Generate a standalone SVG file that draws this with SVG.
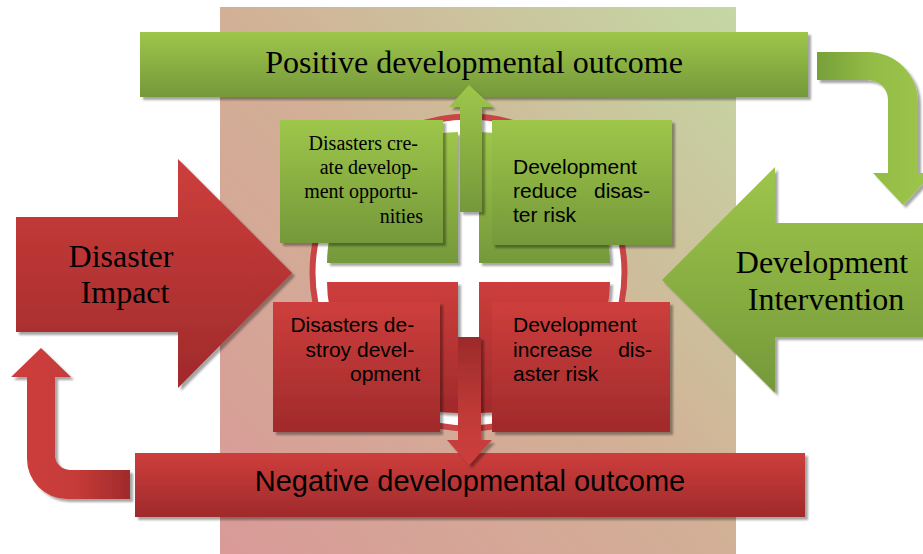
<svg xmlns="http://www.w3.org/2000/svg" width="923" height="554" viewBox="0 0 923 554">
<defs>
<linearGradient id="bg" x1="0" y1="1" x2="1" y2="0">
<stop offset="0" stop-color="#d99a98"/>
<stop offset="0.5" stop-color="#d2b096"/>
<stop offset="1" stop-color="#c4d8a4"/>
</linearGradient>
<linearGradient id="red" x1="0" y1="0" x2="0" y2="1">
<stop offset="0" stop-color="#cd3e3c"/>
<stop offset="1" stop-color="#a02a2b"/>
</linearGradient>
<linearGradient id="green" x1="0" y1="0" x2="0" y2="1">
<stop offset="0" stop-color="#9ec64a"/>
<stop offset="1" stop-color="#75983a"/>
</linearGradient>
<linearGradient id="redH" x1="0" y1="0" x2="1" y2="0">
<stop offset="0" stop-color="#cd3e3c"/>
<stop offset="0.55" stop-color="#c53b39"/>
<stop offset="1" stop-color="#a02a2b"/>
</linearGradient>
<linearGradient id="greenH" x1="0" y1="0" x2="1" y2="0">
<stop offset="0" stop-color="#77a03a"/>
<stop offset="0.5" stop-color="#94bd47"/>
<stop offset="1" stop-color="#9ec64a"/>
</linearGradient>
<linearGradient id="redDown" x1="0" y1="0" x2="0" y2="1">
<stop offset="0" stop-color="#9c2a2a"/>
<stop offset="0.6" stop-color="#c03a38"/>
<stop offset="1" stop-color="#cd3e3c"/>
</linearGradient>
<filter id="sh" x="-10%" y="-10%" width="130%" height="130%">
<feDropShadow dx="3" dy="3" stdDeviation="0.8" flood-color="#000" flood-opacity="0.35"/>
</filter>
</defs>
<style>
.serif{font-family:"Liberation Serif","Times New Roman",serif;fill:#000}
.sans{font-family:"Liberation Sans",Arial,sans-serif;fill:#000}
</style>
<rect x="0" y="0" width="923" height="554" fill="#fff"/>
<rect id="panel" x="220" y="7" width="516" height="547" fill="url(#bg)"/>

<g id="cycle">
<circle cx="468.5" cy="272.5" r="156" fill="#fff" stroke="#c94444" stroke-width="6"/>
<path d="M458,263 V132 A131,131 0 0 0 327,263 Z" fill="url(#green)" filter="url(#sh)"/>
<path d="M479,263 H610 A131,131 0 0 0 479,132 Z" fill="url(#green)" filter="url(#sh)"/>
<path d="M458,282 H327 A131,131 0 0 0 458,413 Z" fill="url(#red)" filter="url(#sh)"/>
<path d="M479,282 V413 A131,131 0 0 0 610,282 Z" fill="url(#red)" filter="url(#sh)"/>
</g>

<g id="box-create">
<rect x="280" y="120" width="163" height="123" fill="url(#green)" filter="url(#sh)"/>
<text class="serif" font-size="20" text-anchor="end">
<tspan x="423" y="150">Disasters cre-</tspan>
<tspan x="423" y="174">ate develop-</tspan>
<tspan x="423" y="198">ment opportu-</tspan>
<tspan x="423" y="223">nities</tspan>
</text>
</g>

<g id="box-reduce">
<rect x="492" y="120" width="180" height="125" fill="url(#green)" filter="url(#sh)"/>
<text class="sans" font-size="21" x="513" y="174">Development</text>
<text class="sans" font-size="21" x="513" y="198">reduce</text>
<text class="sans" font-size="21" x="650" y="198" text-anchor="end">disas-</text>
<text class="sans" font-size="21" x="513" y="222">ter risk</text>
</g>

<g id="box-destroy">
<rect x="273" y="302" width="167" height="130" fill="url(#red)" filter="url(#sh)"/>
<text class="sans" font-size="21" text-anchor="end">
<tspan x="420" y="332">Disasters de-</tspan>
<tspan x="420" y="357">stroy devel-</tspan>
<tspan x="420" y="381">opment</tspan>
</text>
</g>

<g id="box-increase">
<rect x="492" y="302" width="178" height="130" fill="url(#red)" filter="url(#sh)"/>
<text class="sans" font-size="21" x="513" y="332">Development</text>
<text class="sans" font-size="21" x="513" y="357">increase</text>
<text class="sans" font-size="21" x="652" y="357" text-anchor="end">dis-</text>
<text class="sans" font-size="21" x="513" y="381">aster risk</text>
</g>

<g id="positive-outcome">
<rect x="140" y="32" width="668" height="65" fill="url(#green)" filter="url(#sh)"/>
<text class="serif" font-size="32" x="474" y="73" text-anchor="middle">Positive developmental outcome</text>
</g>

<g id="negative-outcome">
<rect x="135" y="453" width="670" height="64" fill="url(#red)" filter="url(#sh)"/>
<text class="sans" font-size="29" x="470" y="491" text-anchor="middle">Negative developmental outcome</text>
</g>

<g id="disaster-impact">
<path d="M16,217 H178 V159 L292,273 L178,388 V332 H16 Z" fill="url(#red)" filter="url(#sh)"/>
<text class="serif" font-size="32" text-anchor="middle">
<tspan x="125" y="267">Disaster</tspan>
<tspan x="125" y="303">Impact</tspan>
</text>
</g>

<g id="development-intervention">
<path d="M925,223 H775 V167 L662,280 L775,393 V337 H925 Z" fill="url(#green)" filter="url(#sh)"/>
<text class="serif" font-size="32" text-anchor="middle">
<tspan x="826" y="273">Development</tspan>
<tspan x="826" y="310">Intervention</tspan>
</text>
</g>

<g id="connectors">
<path id="loop-top-right" d="M817,52 H868 A50,50 0 0 1 918,102 V173 H933 L903,205 L873,173 H888 V100 A20,20 0 0 0 868,80 H817 Z" fill="url(#greenH)" filter="url(#sh)"/>
<path id="loop-bottom-left" d="M130,470 H70 A15,15 0 0 1 55,455 V377 H71 L41,348 L11,377 H27 V459 A40,40 0 0 0 67,499 H130 Z" fill="url(#redH)" filter="url(#sh)"/>
<path id="arrow-up" d="M469,85 L493,107 H482 V212 H460 V107 H449 Z" fill="url(#green)" filter="url(#sh)"/>
<path id="arrow-down" d="M458,337 H481 V440 H492 L469,465 L447,440 H458 Z" fill="url(#redDown)" filter="url(#sh)"/>
</g>
</svg>
